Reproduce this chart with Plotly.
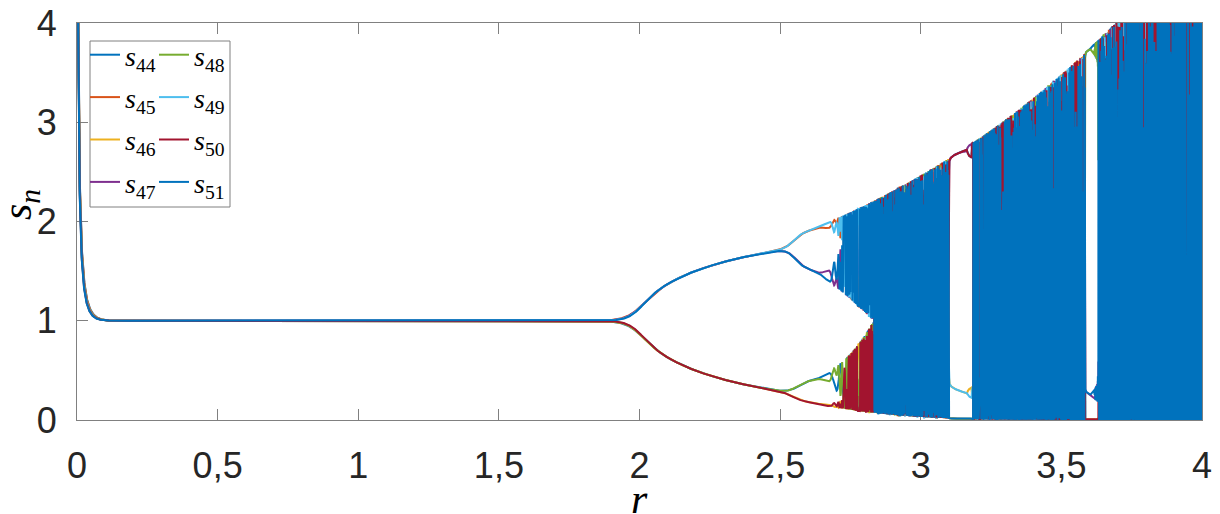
import numpy as np
import plotly.graph_objects as go

# Ricker map s_{n+1} = s_n * exp(r * (1 - s_n)), swept over the growth rate r
r_start = 0.0
r_stop = 4.0
r_count = 16001
s_initial = 13.75
shown_n = [44, 45, 46, 47, 48, 49, 50, 51]
series_colors = ["#0072BD", "#D95319", "#EDB120", "#7E2F8E",
                 "#77AC30", "#4DBEEE", "#A2142F", "#0072BD"]
x_tick_values = [0, 0.5, 1, 1.5, 2, 2.5, 3, 3.5, 4]
x_tick_labels = ["0", "0,5", "1", "1,5", "2", "2,5", "3", "3,5", "4"]
y_tick_values = [0, 1, 2, 3, 4]
y_tick_labels = ["0", "1", "2", "3", "4"]
x_title = "<i>r</i>"
y_title = "<i>s</i><sub><i>n</i></sub>"

r = np.linspace(r_start, r_stop, r_count)
s = np.full_like(r, s_initial)
orbit = {}
for n in range(1, max(shown_n) + 1):
    s = s * np.exp(r * (1.0 - s))
    if n in shown_n:
        orbit[n] = s.copy()

fig = go.Figure()
for i, n in enumerate(shown_n):
    fig.add_trace(go.Scatter(
        x=r, y=orbit[n], mode="lines",
        line=dict(color=series_colors[i], width=2),
        name=f"<i>s</i><sub>{n}</sub>",
        legend="legend" if i < 4 else "legend2",
        legendgroup=f"g{n}",
        hoverinfo="skip",
    ))

W, H = 1220, 514
ml, mr, mt, mb = 77, 18, 23, 94
pw, ph = W - ml - mr, H - mt - mb


def px_x(p):
    return (p - ml) / pw


def px_y(p):
    return (H - mb - p) / ph


serif = "Liberation Serif, Times New Roman, serif"
axis_common = dict(
    showline=True, linecolor="#808080", linewidth=1, mirror="ticks",
    ticks="inside", ticklen=11, tickcolor="#808080", tickwidth=1,
    showgrid=False, zeroline=False, layer="below traces", automargin=False,
    tickfont=dict(family="Liberation Sans, Arial, sans-serif", size=36, color="#262626"),
)

legend_common = dict(
    bgcolor="rgba(0,0,0,0)", borderwidth=0, xanchor="left", yanchor="top",
    traceorder="grouped", tracegroupgap=3, itemwidth=30,
    font=dict(family=serif, size=28, color="#000000"),
    itemclick=False, itemdoubleclick=False,
)

title_font = dict(family=serif, size=42, color="#000000")

fig.update_layout(
    width=W, height=H,
    margin=dict(l=ml, r=mr, t=mt, b=mb, pad=0, autoexpand=False),
    paper_bgcolor="white", plot_bgcolor="white",
    showlegend=True,
    xaxis=dict(range=[0, 4], tickvals=x_tick_values, ticktext=x_tick_labels,
               ticklabelstandoff=14, **axis_common),
    yaxis=dict(range=[0, 4], tickvals=y_tick_values, ticktext=y_tick_labels,
               ticklabelstandoff=12, **axis_common),
    legend=dict(x=px_x(85), y=px_y(30), **legend_common),
    legend2=dict(x=px_x(154), y=px_y(30), **legend_common),
    shapes=[dict(type="rect", xref="paper", yref="paper",
                 x0=px_x(90), x1=px_x(230), y0=px_y(207), y1=px_y(41),
                 line=dict(color="#808080", width=1), fillcolor="white", layer="above")],
    annotations=[
        dict(text=x_title, xref="paper", yref="paper", x=px_x(639), y=px_y(499),
             xanchor="center", yanchor="middle", showarrow=False, font=title_font),
        dict(text=y_title, xref="paper", yref="paper", x=px_x(20), y=px_y(205),
             xanchor="center", yanchor="middle", showarrow=False, textangle=-90,
             font=title_font),
    ],
)

fig.write_html("out.html")
